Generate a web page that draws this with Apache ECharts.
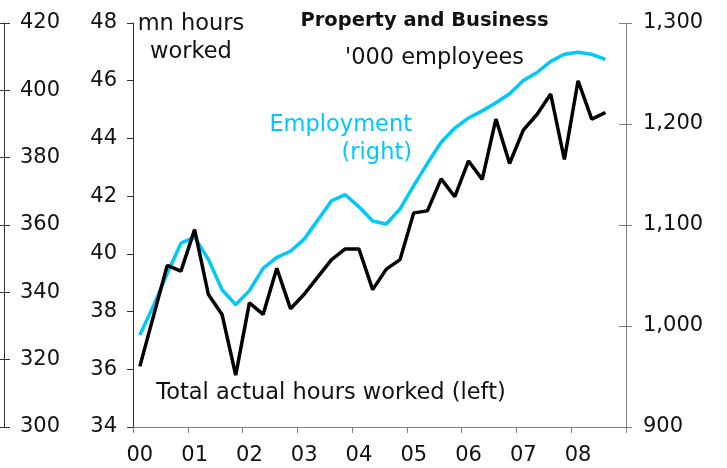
<!DOCTYPE html>
<html>
<head>
<meta charset="utf-8">
<script src="https://cdn.jsdelivr.net/npm/echarts@6/dist/echarts.min.js"></script>
<style>
html,body{margin:0;padding:0;background:#fff;}
#c{width:727px;height:468px;}
</style>
</head>
<body>
<div id="c"></div>
<script>
const quarters = ['2000Q1','2000Q2','2000Q3','2000Q4','2001Q1','2001Q2','2001Q3','2001Q4',
  '2002Q1','2002Q2','2002Q3','2002Q4','2003Q1','2003Q2','2003Q3','2003Q4',
  '2004Q1','2004Q2','2004Q3','2004Q4','2005Q1','2005Q2','2005Q3','2005Q4',
  '2006Q1','2006Q2','2006Q3','2006Q4','2007Q1','2007Q2','2007Q3','2007Q4',
  '2008Q1','2008Q2','2008Q3','2008Q4'];
const yearLabels = ['00','01','02','03','04','05','06','07','08'];
const hoursWorked = [36.1, 37.85, 39.6, 39.4, 40.84, 38.6, 37.9, 35.8,
  38.3, 37.9, 39.5, 38.1, 38.6, 39.2, 39.8, 40.17,
  40.17, 38.76, 39.47, 39.8, 41.42, 41.49, 42.6, 41.98,
  43.22, 42.58, 44.67, 43.13, 44.29, 44.83, 45.54, 43.27,
  46.0, 44.67, 44.9, null];
const employment = [991, 1020, 1052, 1082, 1088, 1066, 1036, 1021,
  1035, 1057, 1068, 1074, 1086, 1105, 1124, 1130,
  1118, 1104, 1101, 1116, 1139, 1161, 1182, 1196,
  1206, 1213, 1221, 1230, 1243, 1251, 1262, 1269,
  1271, 1269, 1264, null];
const leftTicks = {min: 34, max: 48, interval: 2};
const rightTicks = {min: 900, max: 1300, interval: 100};
const farLeftTicks = {min: 300, max: 420, interval: 20};

const FONT = 'DejaVu Sans';
const chart = echarts.init(document.getElementById('c'), null, {renderer: 'canvas'});
const labelStyle = {fontFamily: FONT, fontSize: 21, color: '#111'};
const ANN = 22.5;

chart.setOption({
  animation: false,
  backgroundColor: '#fff',
  grid: {left: 133, right: 101, top: 23, bottom: 41, containLabel: false},
  xAxis: {
    type: 'category',
    data: quarters,
    boundaryGap: true,
    axisLine: {lineStyle: {color: '#808080', width: 1}},
    axisTick: {show: true, interval: 3, length: 6, lineStyle: {color: '#808080'}},
    axisLabel: Object.assign({}, labelStyle, {
      interval: 3, margin: 18,
      formatter: (v, i) => yearLabels[Math.floor(i / 4)] || ''
    }),
    splitLine: {show: false}
  },
  yAxis: [
    {
      type: 'value', position: 'left', min: leftTicks.min, max: leftTicks.max, interval: leftTicks.interval,
      axisLine: {show: true, lineStyle: {color: '#333', width: 1}},
      axisTick: {show: true, length: 6, lineStyle: {color: '#333'}},
      axisLabel: Object.assign({}, labelStyle, {margin: 16}),
      splitLine: {show: false}
    },
    {
      type: 'value', position: 'right', min: rightTicks.min, max: rightTicks.max, interval: rightTicks.interval,
      axisLine: {show: true, lineStyle: {color: '#808080', width: 1}},
      axisTick: {show: true, length: 6, lineStyle: {color: '#808080'}},
      axisLabel: Object.assign({}, labelStyle, {margin: 17,
        formatter: v => v.toLocaleString('en-US')}),
      splitLine: {show: false}
    },
    {
      type: 'value', position: 'left', offset: 129, min: farLeftTicks.min, max: farLeftTicks.max, interval: farLeftTicks.interval,
      axisLine: {show: true, lineStyle: {color: '#333', width: 1}},
      axisTick: {show: true, inside: true, length: 6, lineStyle: {color: '#333'}},
      axisLabel: Object.assign({}, labelStyle, {inside: true, margin: 16}),
      splitLine: {show: false}
    },
    {
      type: 'value', position: 'right', min: rightTicks.min, max: rightTicks.max, interval: rightTicks.interval,
      axisLine: {show: false},
      axisTick: {show: true, inside: true, length: 7, lineStyle: {color: '#808080'}},
      axisLabel: {show: false},
      splitLine: {show: false}
    },
    {
      type: 'value', position: 'left', offset: 129, min: farLeftTicks.min, max: farLeftTicks.max, interval: farLeftTicks.interval,
      axisLine: {show: false},
      axisTick: {show: true, length: 4, lineStyle: {color: '#333'}},
      axisLabel: {show: false},
      splitLine: {show: false}
    }
  ],
  series: [
    {
      name: 'Employment (right)', type: 'line', yAxisIndex: 1, data: employment,
      showSymbol: false, symbol: 'none',
      lineStyle: {color: '#00C8F8', width: 3.5}, z: 2
    },
    {
      name: 'Total actual hours worked (left)', type: 'line', yAxisIndex: 0, data: hoursWorked,
      showSymbol: false, symbol: 'none',
      lineStyle: {color: '#000', width: 3.5}, z: 3
    }
  ],
  graphic: [
    {type: 'text', x: 424.5, y: 21, style: {text: 'Property and Business', fontFamily: FONT, fontWeight: 'bold', fontSize: 19.5, fill: '#111', align: 'center', verticalAlign: 'middle'}},
    {type: 'text', x: 191, y: 24, style: {text: 'mn hours', fontFamily: FONT, fontSize: ANN, fill: '#111', align: 'center', verticalAlign: 'middle'}},
    {type: 'text', x: 191, y: 52, style: {text: 'worked', fontFamily: FONT, fontSize: ANN, fill: '#111', align: 'center', verticalAlign: 'middle'}},
    {type: 'text', x: 434.5, y: 58, style: {text: "'000 employees", fontFamily: FONT, fontSize: ANN, fill: '#111', align: 'center', verticalAlign: 'middle'}},
    {type: 'text', x: 412, y: 125.5, style: {text: 'Employment', fontFamily: FONT, fontSize: ANN, fill: '#00C8F8', align: 'right', verticalAlign: 'middle'}},
    {type: 'text', x: 412, y: 153, style: {text: '(right)', fontFamily: FONT, fontSize: ANN, fill: '#00C8F8', align: 'right', verticalAlign: 'middle'}},
    {type: 'text', x: 331, y: 393, style: {text: 'Total actual hours worked (left)', fontFamily: FONT, fontSize: ANN, fill: '#111', align: 'center', verticalAlign: 'middle'}}
  ]
});
</script>
</body>
</html>
